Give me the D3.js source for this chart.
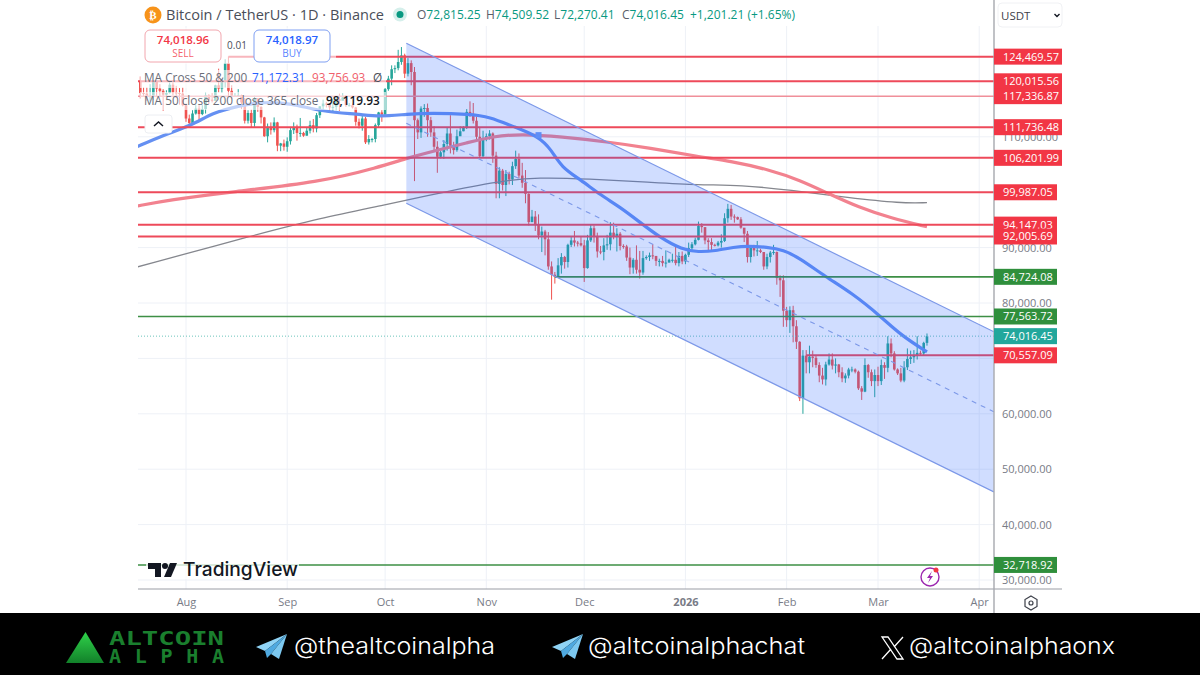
<!DOCTYPE html>
<html><head><meta charset="utf-8">
<script src="https://cdn.jsdelivr.net/npm/d3@7"></script>
<style>
html,body{margin:0;padding:0;background:#fff;overflow:hidden}
svg{display:block}
text{font-family:"Open Sans","Noto Sans",sans-serif}
</style></head><body>
<svg id="c" width="1200" height="675"></svg>
<script>
// ---------- data (thousands of USDT, one entry per day from 18 Jul 2025) ----------
const startDay = "2025-07-18";
const closes = [
117.9,117.8,117.3,117.4,119.9,118.7,118.3,117.6,117.9,119.4,118.0,117.9,117.8,115.7,
113.3,112.5,114.2,115.1,114.1,115.0,117.5,116.7,116.5,119.3,118.7,120.2,123.3,118.3,117.4,117.4,117.5,116.2,112.9,114.3,112.5,116.9,115.4,113.5,110.1,111.8,111.2,112.6,108.4,108.8,108.2,
109.2,111.2,111.7,110.7,110.7,110.2,111.1,112.1,111.5,113.9,115.5,116.0,115.9,115.3,115.4,116.8,116.5,117.1,115.7,115.7,115.3,112.7,112.0,113.3,109.0,109.6,109.6,112.1,114.4,114.0,
118.6,120.5,122.2,122.4,123.5,124.7,121.4,123.3,121.7,113.0,110.8,115.1,115.2,113.0,110.8,108.2,106.4,107.2,108.7,110.6,108.4,107.6,110.1,111.0,111.6,114.5,114.1,112.9,110.0,106.5,109.6,
110.1,110.6,106.6,101.5,103.9,101.3,103.3,102.3,104.7,106.0,103.0,101.7,99.7,94.6,95.6,94.2,92.2,92.9,91.5,86.6,85.1,84.7,86.8,88.3,87.4,90.5,91.3,90.9,90.8,90.4,
86.3,91.3,93.5,92.1,89.3,89.2,90.4,90.6,92.7,92.0,92.5,90.3,90.2,88.2,86.4,87.8,86.0,85.5,88.1,88.3,88.6,88.5,87.6,87.6,87.2,87.3,87.8,87.8,87.2,88.5,87.5,
88.7,89.9,90.6,91.4,93.9,93.7,91.3,91.0,90.5,90.4,90.9,91.2,95.3,97.0,95.6,95.5,95.1,93.6,92.5,88.3,90.0,89.5,89.5,89.2,86.6,88.3,89.1,89.2,84.5,84.1,78.6,
76.9,78.7,75.8,73.0,62.8,70.5,69.3,70.3,70.1,68.8,66.9,66.2,68.9,69.8,68.7,68.9,67.5,66.4,66.9,68.0,68.0,67.6,64.6,64.0,68.8,67.5,65.9,67.0,
65.9,68.8,68.3,72.7,70.9,68.0,67.3,66.0,68.4,69.9,70.2,70.5,71.0,70.9,72.8,74.0];
const highs = [
120.9,118.9,118.9,119.5,120.2,120.0,119.5,118.6,118.4,119.8,119.8,119.2,118.8,118.9,
116.0,114.0,114.8,115.7,115.7,115.7,118.0,117.7,117.9,119.4,122.3,120.3,124.0,124.5,119.3,117.9,118.6,117.6,117.0,114.8,114.9,117.4,117.0,115.5,113.6,112.4,112.6,113.5,112.7,108.9,109.5,
109.9,111.6,112.6,112.2,113.4,110.9,111.6,112.9,113.2,114.3,115.5,116.7,116.3,116.1,116.8,117.3,117.8,117.9,117.5,116.1,116.0,115.4,113.3,114.0,113.6,110.3,109.8,112.4,114.5,114.8,
118.8,121.0,122.9,122.9,125.7,126.2,125.0,124.2,123.8,122.6,113.3,115.5,115.9,116.0,113.6,111.9,109.2,107.5,109.4,111.7,113.9,109.1,111.3,111.9,111.9,115.0,116.4,116.1,113.6,111.6,111.1,
110.6,111.2,110.8,107.3,104.5,104.2,104.0,103.7,105.5,107.5,107.0,105.3,104.0,99.8,96.8,96.6,96.0,93.8,93.2,92.8,87.5,85.6,88.1,89.0,88.5,90.7,91.9,93.0,91.2,91.9,
91.4,92.3,94.1,94.0,92.7,90.3,91.7,92.3,94.6,94.5,93.5,92.8,90.6,90.5,90.0,88.1,90.4,89.4,89.4,88.6,89.1,90.6,88.0,88.0,88.5,89.5,88.0,88.9,90.3,89.2,89.3,
88.9,90.9,91.0,91.8,94.7,94.4,93.6,91.7,91.7,90.7,91.2,92.4,96.2,97.9,97.7,96.0,95.6,95.5,93.3,93.0,90.4,90.5,91.2,89.8,89.2,88.9,89.4,90.5,89.3,85.0,85.0,
79.3,79.4,79.5,76.9,73.1,71.5,71.5,72.3,71.4,70.5,69.3,68.3,69.4,70.9,70.9,70.0,69.0,68.4,67.3,68.3,68.5,68.2,67.8,65.0,70.0,69.0,68.0,68.0,
68.5,69.8,69.3,74.0,73.6,71.3,68.2,68.3,69.5,71.8,71.4,71.5,74.0,71.4,73.0,74.5];
const lows = [
116.9,117.3,116.5,116.4,116.6,117.3,117.3,114.7,117.2,117.8,117.5,117.0,115.8,115.5,
112.7,112.0,112.2,114.0,112.7,113.9,114.2,115.9,116.2,116.5,118.0,117.9,118.9,117.2,116.8,117.2,117.2,115.0,112.4,112.4,111.6,111.8,114.5,112.4,110.0,109.0,110.4,110.8,107.4,107.4,107.5,
107.3,108.6,110.5,109.3,110.0,110.0,110.2,110.6,110.8,110.8,113.4,114.8,115.3,114.4,114.4,114.8,114.7,116.8,115.4,115.5,115.1,112.0,111.5,111.1,108.7,108.6,109.0,109.0,111.6,112.7,
113.9,118.3,119.3,121.5,122.0,123.0,120.6,120.9,119.3,102.0,109.6,109.8,113.6,110.0,110.0,107.5,103.5,106.1,106.0,107.5,107.0,106.8,107.3,110.3,111.0,111.4,113.6,112.4,109.5,106.3,106.2,
109.2,109.5,105.3,98.9,98.9,100.3,99.3,101.4,101.3,104.2,102.5,100.8,98.0,94.0,94.6,93.0,91.5,89.2,88.6,86.0,80.6,83.5,84.7,85.3,86.2,86.4,90.1,90.2,90.2,90.2,
83.8,86.2,91.0,90.9,88.2,88.8,87.7,89.6,89.5,91.5,89.3,89.5,89.8,87.6,85.2,85.3,85.3,84.4,85.1,87.8,87.6,87.9,86.7,86.6,86.6,86.4,87.3,87.3,86.8,86.6,87.0,
87.0,88.3,89.2,90.4,91.3,92.7,90.6,89.3,89.5,90.2,90.2,90.0,91.0,94.5,95.0,94.5,95.0,93.4,91.0,87.3,87.3,88.4,88.5,89.0,86.0,86.1,87.3,88.7,83.3,81.1,75.7,
75.7,74.6,72.9,71.7,62.3,60.0,67.3,67.3,68.4,68.3,65.7,65.3,65.1,68.7,68.0,67.3,66.6,65.7,65.6,66.4,67.5,67.3,64.3,62.5,63.9,66.5,65.0,63.0,
65.0,65.2,66.3,67.5,70.2,67.8,67.0,65.7,65.7,67.9,69.0,69.2,69.8,70.5,70.5,72.3];
const firstOpen = 120.0;

// moving averages: day index from startDay, value in thousands
const ma50Days = [-1,7,16,22,30,38,46,56,67,73,82,89,101,107,114,122,126,129,135,141,147,153,159,166,171,176,182,186,192,197,202,210,218,227,233,241];
const ma50Vals = [108.2,110.3,112.1,114.3,115.6,116.3,116.1,114.5,114.1,113.6,114.1,114.3,114.1,113.6,111.9,110.1,107.6,104.5,102.2,99.5,97.3,94.6,91.9,89.6,89.2,89.4,90.1,90.3,90.1,89.6,88.1,84.7,81.8,77.5,74.2,71.17];
const ma200Days = [-1,9,27,55,73,82,91,100,108,117,129,143,156,171,181,193,202,211,220,230,241];
const ma200Vals = [97.5,98.6,100.0,101.8,104.5,106.2,107.6,108.9,110.1,110.5,110.0,109.1,108.0,106.4,105.6,104.0,102.2,99.7,97.3,95.3,93.76];
const ma365Days = [-1,34,55,75,92,110,122,137,156,171,184,199,217,233,241];
const ma365Vals = [86.5,92.1,95.3,97.7,99.9,102.0,102.7,102.4,101.8,101.3,101.3,100.4,99.0,98.0,98.12];
const crossDay = 122, crossVal = 110.3;

// price channel: start/end day, upper, middle, lower in thousands
const channelDays = [81.5, 261.5];
const channelUpper = [126.9, 74.8];
const channelMiddle = [112.45, 60.35];
const channelLower = [98.0, 45.9];

// horizontal levels
const levelValues = [124469.57,120015.56,117336.87,111736.48,106201.99,99987.05,94147.03,92005.69,84724.08,77563.72,70557.09,32718.92];
const levelKinds  = ["red","red","pale","red","red","red","red","red","green","green","red","green"];
const levelStarts = [27,-2,-2,-2,-2,-2,-2,-2,127,-2,204,-2];
const lastPrice = 74016.45;

const gridPrices = [30000,40000,50000,60000,70000,80000,90000,100000,110000,120000];
const priceTicks = [30000,40000,50000,60000,80000,90000,110000];
const monthDates = ["2025-08-01","2025-09-01","2025-10-01","2025-11-01","2025-12-01","2026-01-01","2026-02-01","2026-03-01","2026-04-01"];
const monthLabels = ["Aug","Sep","Oct","Nov","Dec","2026","Feb","Mar","Apr"];

const titleText = "Bitcoin / TetherUS · 1D · Binance";
const ohlcLabels = ["O","H","L","C"];
const ohlcValues = ["72,815.25","74,509.52","72,270.41","74,016.45"];
const ohlcChange = "+1,201.21 (+1.65%)";
const sellPrice = "74,018.96", buyPrice = "74,018.97", spread = "0.01";
const handles = ["@thealtcoinalpha","@altcoinalphachat","@altcoinalphaonx"];

// ---------- scales ----------
const parse = d3.utcParse("%Y-%m-%d");
const d0 = parse(startDay);
const dayDate = i => new Date(d0.getTime()+i*864e5);
const x = d3.scaleUtc().domain([parse("2025-08-01"),parse("2026-04-01")]).range([186,979.2]);
const y = d3.scaleLinear().domain([30000,120000]).range([580,81.4]);
const L=138,R=994,T=26,B=589;
const xd = i=>x(dayDate(i));
const yk = v=>y(v*1000);

const svg = d3.select("#c");
const defs = svg.append("defs");
defs.append("clipPath").attr("id","plot").append("rect").attr("x",L).attr("y",T).attr("width",R-L).attr("height",B-T);
const plot = svg.append("g").attr("clip-path","url(#plot)");

// grid
plot.append("g").selectAll("line").data(gridPrices).join("line")
 .attr("x1",L).attr("x2",R).attr("y1",d=>y(d)).attr("y2",d=>y(d)).attr("stroke","#eef1f7").attr("stroke-width",1);
plot.append("g").selectAll("line").data(monthDates).join("line")
 .attr("x1",d=>x(parse(d))).attr("x2",d=>x(parse(d))).attr("y1",T).attr("y2",B).attr("stroke","#eef1f7").attr("stroke-width",1);

// candles
const bars = closes.map((c,i)=>({i,c,h:highs[i],l:lows[i],o:i?closes[i-1]:firstOpen}));
const col = d=>d.c>=d.o?"#26a69a":"#ef5350";
const cg = plot.append("g");
cg.selectAll("line").data(bars).join("line")
 .attr("x1",d=>xd(d.i)).attr("x2",d=>xd(d.i)).attr("y1",d=>yk(d.h)).attr("y2",d=>yk(d.l))
 .attr("stroke",col).attr("stroke-width",1);
cg.selectAll("rect").data(bars).join("rect")
 .attr("x",d=>xd(d.i)-1.3).attr("width",2.6)
 .attr("y",d=>Math.min(yk(d.o),yk(d.c))).attr("height",d=>Math.max(1,Math.abs(yk(d.o)-yk(d.c))))
 .attr("fill",col);

// moving averages
const lineGen = d3.line().x(d=>xd(d[0])).y(d=>yk(d[1])).curve(d3.curveBasis);
const zipped = (a,b)=>a.map((v,i)=>[v,b[i]]);
plot.append("path").attr("d",lineGen(zipped(ma365Days,ma365Vals))).attr("fill","none").attr("stroke","#85878e").attr("stroke-width",1.3);
plot.append("path").attr("d",lineGen(zipped(ma200Days,ma200Vals))).attr("fill","none").attr("stroke","#f2828f").attr("stroke-width",3.2);
plot.append("path").attr("d",lineGen(zipped(ma50Days,ma50Vals))).attr("fill","none").attr("stroke","#6590f2").attr("stroke-width",3.2);
plot.append("rect").attr("x",xd(crossDay)-3).attr("y",yk(crossVal)-3).attr("width",6).attr("height",6).attr("fill","#6f9af5");

// levels
const levelColor = {red:"#ee4a5a",pale:"#f08f9a",green:"#3d8f45"};
const levelWidth = {red:2,pale:1.5,green:1.6};
plot.append("g").selectAll("line").data(levelValues).join("line")
 .attr("x1",(d,i)=>xd(levelStarts[i])).attr("x2",R).attr("y1",d=>y(d)).attr("y2",d=>y(d))
 .attr("stroke",(d,i)=>levelColor[levelKinds[i]]).attr("stroke-width",(d,i)=>levelWidth[levelKinds[i]]);
plot.append("line").attr("x1",L).attr("x2",R).attr("y1",y(lastPrice)).attr("y2",y(lastPrice))
 .attr("stroke","#6cc4bb").attr("stroke-width",1).attr("stroke-dasharray","1 2");

// channel (drawn over the candles, as in the source)
const chPts = [[channelDays[0],channelUpper[0]],[channelDays[1],channelUpper[1]],[channelDays[1],channelLower[1]],[channelDays[0],channelLower[0]]];
const straight = d3.line().x(d=>xd(d[0])).y(d=>yk(d[1]));
plot.append("path").attr("d",straight(chPts)+"Z").attr("fill","#2962ff").attr("fill-opacity",0.22);
plot.append("path").attr("d",straight(zipped(channelDays,channelUpper))).attr("stroke","#7c98e8").attr("stroke-width",1.2).attr("fill","none");
plot.append("path").attr("d",straight(zipped(channelDays,channelLower))).attr("stroke","#7c98e8").attr("stroke-width",1.2).attr("fill","none");
plot.append("path").attr("d",straight(zipped(channelDays,channelMiddle))).attr("stroke","#7c98e8").attr("stroke-width",1.1).attr("stroke-dasharray","5 5").attr("fill","none");

// washes under legend
const wash = (a,b,c,d,o)=>svg.append("rect").attr("x",a).attr("y",b).attr("width",c).attr("height",d).attr("fill","#fff").attr("fill-opacity",o);
wash(140,28,196,36,0.6);
wash(140,70,246,18,0.6);
wash(140,92,246,18,0.6);

// axes
const gx = svg.append("g").attr("transform",`translate(0,${B})`)
 .call(d3.axisBottom(x).tickValues(monthDates.map(parse)).tickSize(0).tickPadding(9).tickFormat((d,i)=>monthLabels[i]));
gx.select(".domain").remove();
gx.selectAll("text").attr("fill","#787b86").style("font-size","11px").style("font-weight",(d,i)=>monthLabels[i]==="2026"?"700":"400");
svg.append("line").attr("x1",L).attr("x2",1062).attr("y1",B).attr("y2",B).attr("stroke","#9a9da5").attr("stroke-width",1);
const gy = svg.append("g").attr("transform",`translate(${R},0)`)
 .call(d3.axisRight(y).tickValues(priceTicks).tickSize(0).tickPadding(8).tickFormat(d3.format(",.2f")));
gy.select(".domain").remove();
gy.selectAll("text").attr("fill","#787b86").style("font-size","11px");
svg.append("line").attr("x1",R).attr("x2",R).attr("y1",0).attr("y2",613).attr("stroke","#a6a8ae").attr("stroke-width",1.4);

// price tags
const boxColor = {red:"#f23645",pale:"#f23645",green:"#2f8f3c",teal:"#22a79c"};
const tags = levelValues.map((v,i)=>({v,k:levelKinds[i]})).concat([{v:lastPrice,k:"teal"}]);
const tagG = svg.append("g").selectAll("g").data(tags).join("g").attr("transform",d=>`translate(${R},${y(d.v)})`);
tagG.append("rect").attr("y",-8).attr("height",16).attr("width",d=>d.v>=1e5?68:63).attr("fill",d=>boxColor[d.k]);
tagG.append("text").attr("x",9).attr("y",4).attr("fill","#fff").style("font-size","11px").style("font-weight","500").text(d=>d3.format(",.2f")(d.v));

// header
svg.append("circle").attr("cx",153).attr("cy",15).attr("r",8.5).attr("fill","#f7931a");
svg.append("text").attr("x",153).attr("y",19).attr("text-anchor","middle").attr("fill","#fff").style("font-size","11px").style("font-weight","700").style("font-family","DejaVu Sans").text("₿");
svg.append("text").attr("x",166).attr("y",20).attr("fill","#4a4e59").style("font-size","14.5px").attr("textLength",218).attr("lengthAdjust","spacingAndGlyphs").text(titleText);
svg.append("circle").attr("cx",400).attr("cy",14.5).attr("r",7).attr("fill","#d5efeb");
svg.append("circle").attr("cx",400).attr("cy",14.5).attr("r",3.5).attr("fill","#089981");
const ohlcX=[417,486,554,622];
ohlcValues.forEach((v,i)=>{
 const t=svg.append("text").attr("x",ohlcX[i]).attr("y",19).style("font-size","12px");
 t.append("tspan").attr("fill","#5a5e69").text(ohlcLabels[i]);
 t.append("tspan").attr("fill","#089981").text(v);
});
svg.append("text").attr("x",690).attr("y",19).attr("fill","#089981").style("font-size","12px").text(ohlcChange);

// sell / buy
function tradeBox(a,w,stroke,fill,price,label){
 svg.append("rect").attr("x",a).attr("y",30).attr("width",w).attr("height",32).attr("rx",5).attr("fill","#fff").attr("stroke",stroke);
 svg.append("text").attr("x",a+w/2).attr("y",44).attr("text-anchor","middle").attr("fill",fill).style("font-size","11.5px").style("font-weight","600").text(price);
 svg.append("text").attr("x",a+w/2).attr("y",57).attr("text-anchor","middle").attr("fill",fill).attr("fill-opacity",.8).style("font-size","10px").text(label);
}
tradeBox(145,76,"#f2a6ae","#f23645",sellPrice,"SELL");
tradeBox(254,76,"#7f9ff2","#2962ff",buyPrice,"BUY");
svg.append("text").attr("x",237).attr("y",49).attr("text-anchor","middle").attr("fill","#4a4e59").style("font-size","10px").text(spread);

// legend rows
const lg=(a,b,t,f,w,s)=>svg.append("text").attr("x",a).attr("y",b).attr("fill",f).style("font-size",s||"11.8px").style("font-weight",w||"400").text(t);
lg(144,82,"MA Cross 50 & 200","#6a6d78");
lg(252,82,"71,172.31","#2962ff");
lg(312,82,"93,756.93","#f0616d");
lg(373,82,"Ø","#4a4e59");
lg(144,105,"MA 50 close 200 close 365 close","#6a6d78");
lg(326,105,"98,119.93","#131722","600");
svg.append("rect").attr("x",145).attr("y",115).attr("width",27).attr("height",18).attr("rx",3).attr("fill","#fff").attr("stroke","#eceef2");
svg.append("path").attr("d","M154 126l4.5-4 4.5 4").attr("fill","none").attr("stroke","#131722").attr("stroke-width",1.5);

// currency select
svg.append("rect").attr("x",998).attr("y",3).attr("width",64).attr("height",24).attr("rx",4).attr("fill","#fff").attr("stroke","#f0f1f4");
svg.append("text").attr("x",1001).attr("y",20).attr("fill","#3d404a").style("font-size","11.5px").text("USDT");
svg.append("path").attr("d","M1054.5 14l2.5 2.5 2.5-2.5").attr("fill","none").attr("stroke","#131722").attr("stroke-width",1.4);

// TradingView mark
svg.append("rect").attr("x",146).attr("y",561).attr("width",153).attr("height",18).attr("fill","#fff").attr("fill-opacity",.75);
svg.append("path").attr("d","M148 563h13v14h-6v-8h-7z").attr("fill","#131722");
svg.append("circle").attr("cx",165).attr("cy",566).attr("r",3).attr("fill","#131722");
svg.append("path").attr("d","M170 563h7l-6 14h-7z").attr("fill","#131722");
svg.append("text").attr("x",183).attr("y",575.5).attr("fill","#131722").style("font-size","19px").style("font-weight","500").style("font-family","Inter").attr("textLength",115).attr("lengthAdjust","spacingAndGlyphs").text("TradingView");

// lightning badge and settings icon
svg.append("circle").attr("cx",930).attr("cy",577).attr("r",9).attr("fill","#fff").attr("stroke","#9c27b0").attr("stroke-width",1.4);
svg.append("path").attr("d","M932 571l-5 7h3l-2 5 5-7h-3z").attr("fill","#9c27b0");
svg.append("circle").attr("cx",936).attr("cy",570).attr("r",2.5).attr("fill","#f23645");
svg.append("path").attr("d","M1031 596l6 3.5v7l-6 3.5-6-3.5v-7z").attr("fill","none").attr("stroke","#3d404a").attr("stroke-width",1.2);
svg.append("circle").attr("cx",1031).attr("cy",603).attr("r",2).attr("fill","none").attr("stroke","#3d404a").attr("stroke-width",1.2);

// footer
svg.append("rect").attr("x",0).attr("y",613).attr("width",1200).attr("height",62).attr("fill","#000");
const gr = defs.append("linearGradient").attr("id","tri").attr("x1",0).attr("x2",0).attr("y1",0).attr("y2",1);
gr.append("stop").attr("offset",0).attr("stop-color","#2fd24a");
gr.append("stop").attr("offset",1).attr("stop-color","#12812a");
svg.append("path").attr("d","M85.5 632L104 663H66z").attr("fill","url(#tri)");
svg.append("text").attr("x",109).attr("y",645).attr("fill","#1a7f2e").style("font-family","DejaVu Sans Mono").style("font-weight","700").style("font-size","20px").attr("textLength",115).attr("lengthAdjust","spacingAndGlyphs").text("ALTCOIN");
svg.append("text").attr("x",109).attr("y",663).attr("fill","#1a7f2e").style("font-family","DejaVu Sans Mono").style("font-weight","700").style("font-size","20px").attr("textLength",115).attr("lengthAdjust","spacing").text("ALPHA");
function plane(dx){
 svg.append("path").attr("transform",`translate(${dx},0)`).attr("d","M31 634L0 647l9 4z").attr("fill","#8fd3f5");
 svg.append("path").attr("transform",`translate(${dx},0)`).attr("d","M31 634L9 651l2 7 4-4z").attr("fill","#4fa9e0");
 svg.append("path").attr("transform",`translate(${dx},0)`).attr("d","M31 634L15 654l8 5z").attr("fill","#7cc8f0");
}
plane(256); plane(552);
svg.append("path").attr("d","M882 637h6l15 22h-6zM903 637l-9 10M882 659l9-10").attr("fill","none").attr("stroke","#fff").attr("stroke-width",1.3);
const hx=[294,588,909], hw=[201,217,206];
handles.forEach((h,i)=>svg.append("text").attr("x",hx[i]).attr("y",654).attr("fill","#fff")
 .style("font-family","Inter").style("font-weight","300").style("font-size","23px").attr("textLength",hw[i]).attr("lengthAdjust","spacingAndGlyphs").text(h));
</script>
</body></html>
